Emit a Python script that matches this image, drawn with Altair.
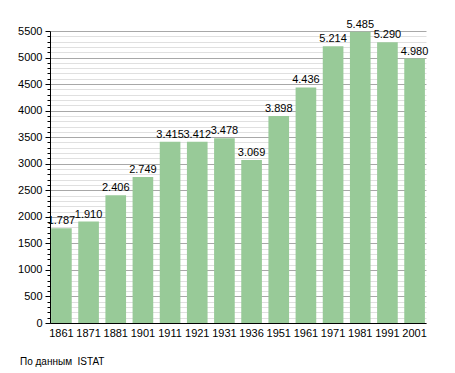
import altair as alt
import pandas as pd

years = ["1861", "1871", "1881", "1901", "1911", "1921", "1931", "1936", "1951", "1961", "1971", "1981", "1991", "2001"]
population = [1787, 1910, 2406, 2749, 3415, 3412, 3478, 3069, 3898, 4436, 5214, 5485, 5290, 4980]
source_text = "По данным\u00a0\u00a0ISTAT"

df = pd.DataFrame({"year": years, "pop": population})

font = "Liberation Sans"

ybase = alt.Y(
    "pop:Q",
    scale=alt.Scale(domain=[0, 5500], nice=False),
    axis=alt.Axis(
        title=None,
        values=list(range(0, 5501, 100)),
        labelExpr="datum.value % 500 === 0 ? datum.label : ''",
        format="d",
        gridColor={"condition": {"test": "datum.value % 500 === 0", "value": "#a8a8a8"}, "value": "#e0e0e0"},
        tickSize={"condition": {"test": "datum.value % 500 === 0", "value": 5}, "value": 3},
        tickColor="#000000",
        domainColor="#000000",
        labelFont=font,
        labelFontSize=11,
        labelColor="#000000",
        labelPadding=3,
    ),
)

xenc = alt.X(
    "year:N",
    sort=years,
    scale=alt.Scale(paddingInner=0.24, paddingOuter=0.04),
    axis=alt.Axis(
        title=None,
        labelAngle=0,
        ticks=False,
        grid=False,
        domainColor="#000000",
        labelFont=font,
        labelFontSize=11,
        labelColor="#000000",
        labelPadding=4,
    ),
)

bars = alt.Chart(df).mark_bar(color="#98ca98").encode(x=xenc, y=ybase)

labels = alt.Chart(df).transform_calculate(
    lab="replace(format(datum.pop, ','), ',', '.')"
).mark_text(baseline="bottom", dy=-2, font=font, fontSize=11, color="#000000").encode(
    x=xenc,
    y=ybase,
    text="lab:N",
)

src = alt.Chart(pd.DataFrame({"t": [source_text]})).mark_text(
    align="left", baseline="middle", font=font, fontSize=10, color="#000000"
).encode(x=alt.value(-30), y=alt.value(331), text="t:N")

chart = alt.layer(bars, labels, src).properties(
    width=376,
    height=292,
    autosize=alt.AutoSizeParams(type="none"),
    padding={"left": 42, "top": 23, "right": 20, "bottom": 50},
).configure_view(stroke=None).configure_axisY(gridWidth=1)

chart.save("out.html", embed_options={"renderer": "svg", "actions": False})
